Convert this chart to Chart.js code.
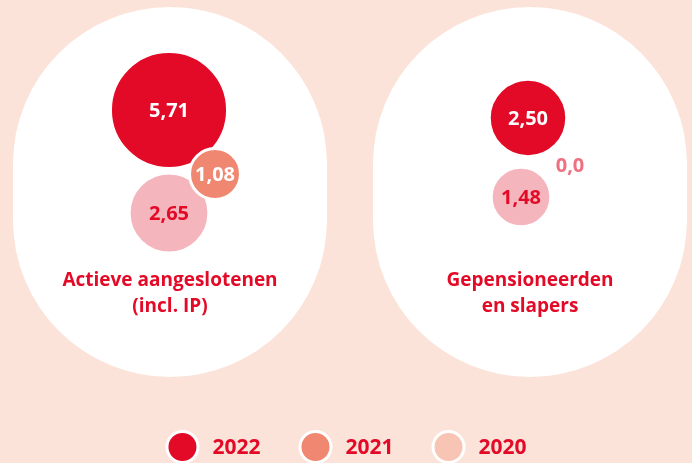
<!DOCTYPE html>
<html>
<head>
<meta charset="utf-8">
<script src="https://cdn.jsdelivr.net/npm/chart.js@4.4.1/dist/chart.umd.min.js"></script>
<style>
    html, body { margin: 0; background: #fbe3da; }
    #wrap { width: 692px; height: 463px; position: relative; }
</style>
</head>
<body>
<div id="wrap"><canvas id="chart"></canvas></div>
<script>
const groups = [['Actieve aangeslotenen', '(incl. IP)'], ['Gepensioneerden', 'en slapers']];
const years = ['2022', '2021', '2020'];
const values2022 = [5.71, 2.50];
const values2021 = [1.08, 0.0];
const values2020 = [2.65, 1.48];

const RED = '#e30a27';
const FONT = "'Open Sans', 'Noto Sans', sans-serif";

// colours per year: bubble fill, label colour, legend swatch
const fills = { '2022': RED, '2021': '#f08770', '2020': '#f5b5bd' };
const textColors = { '2022': '#ffffff', '2021': '#ffffff', '2020': RED };
const swatches = { '2022': RED, '2021': '#f08770', '2020': '#f8c5b4' };

// where each bubble sits inside its panel: [px from panel centre, px from top]
const spots = {
    '2022': [[-1, 110], [-2, 118]],
    '2021': [[45, 174], [40, 165]],
    '2020': [[-1, 213], [-9, 197]]
};
const W = 692, H = 463;
const PANEL_GAP = 360;   // px between the two panel centres
const FIRST_CENTRE = 170;
const K = 24.5;          // radius = K * sqrt(value)
const BORDER = 3;

const series = { '2022': values2022, '2021': values2021, '2020': values2020 };

const fmt = v => v === 0 ? '0,0' : v.toFixed(2).replace('.', ',');

// the bubble chart pads its area by the biggest bubble, so the scales take that into account
const pad = Math.sqrt(Math.max(...values2022, ...values2021, ...values2020)) * K + BORDER;
const xMin = -(FIRST_CENTRE - pad) / PANEL_GAP;
const xMax = xMin + (W - 2 * pad) / PANEL_GAP;

const datasets = years.map(y => ({
    label: y,
    data: series[y].map((v, i) => ({
        x: i + spots[y][i][0] / PANEL_GAP,
        y: spots[y][i][1],
        r: Math.sqrt(v) * K,
        v: v
    })),
    backgroundColor: fills[y],
    borderColor: '#ffffff',
    borderWidth: BORDER,
    clip: false,
    order: y === '2021' ? 0 : 1
}));

const panels = {
    id: 'panels',
    beforeDatasetsDraw(chart) {
        const { ctx, scales } = chart;
        ctx.save();
        ctx.fillStyle = '#ffffff';
        groups.forEach((g, i) => {
            const cx = scales.x.getPixelForValue(i);
            ctx.beginPath();
            ctx.roundRect(cx - 157, 7, 314, 370, 157);
            ctx.fill();
        });
        ctx.restore();
    }
};

const labels = {
    id: 'labels',
    afterDatasetsDraw(chart) {
        const { ctx, scales } = chart;
        ctx.save();
        ctx.textAlign = 'center';
        ctx.textBaseline = 'middle';
        ctx.font = `bold 20px ${FONT}`;
        chart.data.datasets.forEach((ds, di) => {
            chart.getDatasetMeta(di).data.forEach((el, i) => {
                const v = ds.data[i].v;
                ctx.fillStyle = v === 0 ? '#ef7080' : textColors[ds.label];
                ctx.fillText(fmt(v), el.x, el.y + 1);
            });
        });
        ctx.font = `bold 19px ${FONT}`;
        ctx.fillStyle = RED;
        groups.forEach((g, i) => {
            const cx = scales.x.getPixelForValue(i);
            g.forEach((line, j) => ctx.fillText(line, cx, 281 + j * 26));
        });
        ctx.restore();
    }
};

const legendRow = {
    id: 'legendRow',
    afterDraw(chart) {
        const { ctx, width } = chart;
        ctx.save();
        ctx.font = `bold 21px ${FONT}`;
        ctx.textBaseline = 'middle';
        const widths = years.map(y => ctx.measureText(y).width);
        const total = widths.reduce((a, b) => a + b, 0) + years.length * 47 + (years.length - 1) * 38;
        let x = (width - total) / 2;
        const cy = 447;
        years.forEach((y, i) => {
            ctx.beginPath();
            ctx.arc(x + 17, cy, 15.5, 0, Math.PI * 2);
            ctx.fillStyle = swatches[y];
            ctx.fill();
            ctx.lineWidth = 3;
            ctx.strokeStyle = '#ffffff';
            ctx.stroke();
            ctx.fillStyle = RED;
            ctx.fillText(y, x + 47, cy + 1);
            x += 47 + widths[i] + 38;
        });
        ctx.restore();
    }
};

new Chart(document.getElementById('chart'), {
    type: 'bubble',
    data: { datasets },
    options: {
        responsive: true, maintainAspectRatio: false,
        animation: false,
        events: [],
        layout: { padding: 0 },
        plugins: { legend: { display: false }, tooltip: { enabled: false } },
        scales: {
            x: { type: 'linear', display: false, min: xMin, max: xMax },
            y: { type: 'linear', display: false, min: pad, max: H - pad, reverse: true }
        }
    },
    plugins: [panels, labels, legendRow]
});
</script>
</body>
</html>
